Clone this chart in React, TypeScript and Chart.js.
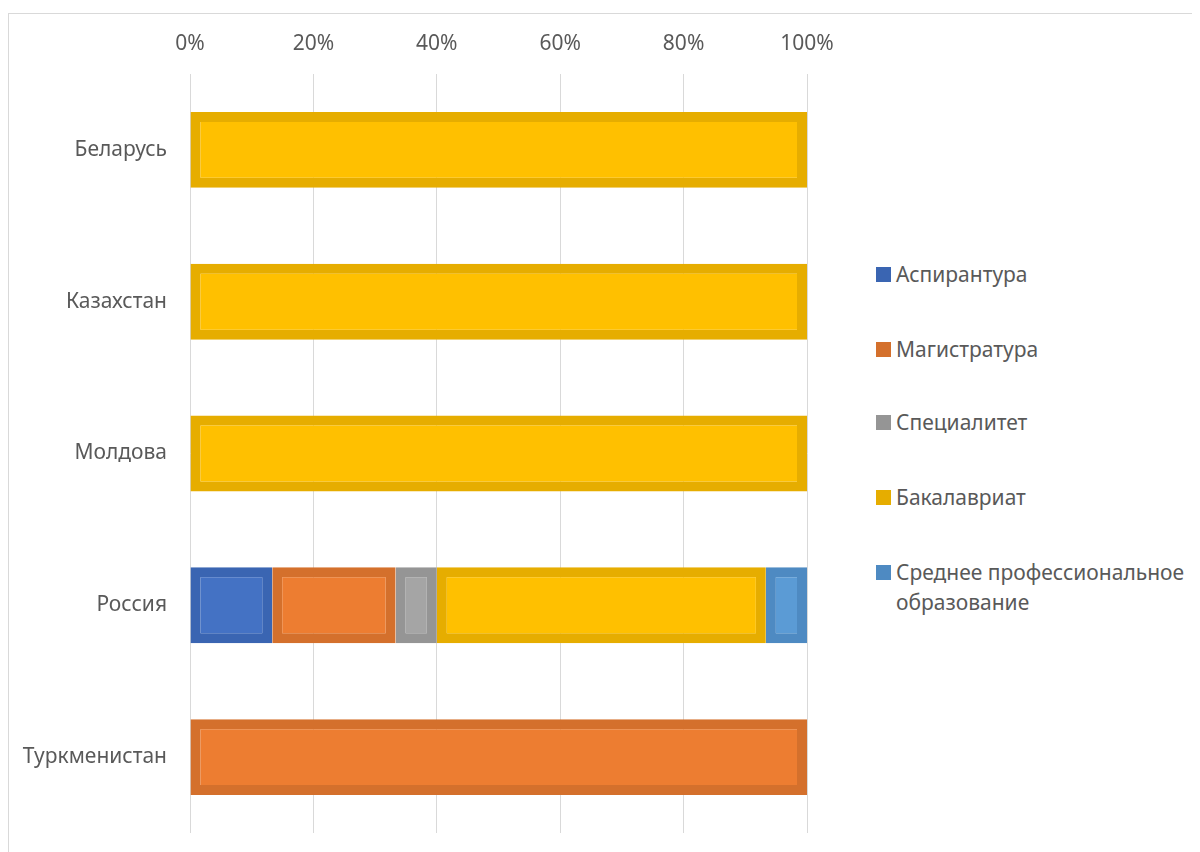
import React, { useEffect, useRef } from "react";
import { Chart, registerables } from "chart.js";

Chart.register(...registerables);

const categories = ["Беларусь", "Казахстан", "Молдова", "Россия", "Туркменистан"];
const seriesNames = [
  "Аспирантура",
  "Магистратура",
  "Специалитет",
  "Бакалавриат",
  "Среднее профессиональное образование",
];
const legendLines = [
  ["Аспирантура"],
  ["Магистратура"],
  ["Специалитет"],
  ["Бакалавриат"],
  ["Среднее профессиональное", "образование"],
];
const aspirantura = [0, 0, 0, 13.33, 0];
const magistratura = [0, 0, 0, 20, 100];
const specialitet = [0, 0, 0, 6.67, 0];
const bakalavriat = [100, 100, 100, 53.33, 0];
const spo = [0, 0, 0, 6.67, 0];
const tickValues = [0, 20, 40, 60, 80, 100];

const fillColors = ["#4472C4", "#ED7D31", "#A5A5A5", "#FFC000", "#5B9BD5"];
const edgeColors = ["#3A65B2", "#D4702C", "#959595", "#E6AD00", "#4E8AC2"];

const FONT = "'Noto Sans', sans-serif";
const TEXT = "#595959";

export default function App() {
  const ref = useRef<HTMLCanvasElement>(null);
  useEffect(() => {
    const series = [aspirantura, magistratura, specialitet, bakalavriat, spo];
    const chart = new Chart(ref.current!, {
      type: "bar",
      data: {
        labels: categories,
        datasets: series.map((d, i) => ({
          label: seriesNames[i],
          data: d,
          backgroundColor: fillColors[i],
          borderColor: edgeColors[i],
          borderWidth: 10,
          borderSkipped: false,
          categoryPercentage: 1,
          barPercentage: 0.5,
        })),
      },
      options: {
        indexAxis: "y",
        responsive: false,
        animation: false,
        devicePixelRatio: 1,
        layout: { padding: { left: 0, right: 62, top: 0, bottom: 19 } },
        plugins: { legend: { display: false }, tooltip: { enabled: false } },
        scales: {
          x: {
            position: "top",
            stacked: true,
            min: 0,
            max: 100,
            afterBuildTicks: (s: any) => {
              s.ticks = tickValues.map((v) => ({ value: v }));
            },
            afterFit: (s: any) => {
              s.height = 60;
              s.paddingLeft = 0;
              s.paddingRight = 0;
            },
            ticks: {
              callback: (v: any) => v + "%",
              color: TEXT,
              font: { family: FONT, size: 21 },
              padding: 17,
            },
            grid: { color: "#D9D9D9", lineWidth: 1, drawTicks: false },
            border: { display: false },
          },
          y: {
            stacked: true,
            afterFit: (s: any) => {
              s.width = 181;
              s.paddingTop = 0;
              s.paddingBottom = 0;
            },
            ticks: {
              color: TEXT,
              font: { family: FONT, size: 21 },
              padding: 23,
            },
            grid: { display: false, drawTicks: false },
            border: { display: false },
          },
        },
      },
    });
    return () => chart.destroy();
  }, []);

  const legendCenters = [260, 335, 408, 483, 558];

  return (
    <div
      style={{
        position: "relative",
        width: 1200,
        height: 840,
        marginTop: 5,
        borderTop: "1px solid #D9D9D9",
        borderLeft: "1px solid #D9D9D9",
        overflow: "hidden",
        background: "#fff",
        fontFamily: FONT,
      }}
    >
      <canvas
        ref={ref}
        width={860}
        height={838}
        style={{ position: "absolute", left: 0, top: 0, width: 860, height: 838 }}
      />
      {legendLines.map((lines, i) => (
        <div
          key={i}
          style={{
            position: "absolute",
            left: 867,
            top: legendCenters[i] - 15,
            display: "flex",
            alignItems: "flex-start",
            color: TEXT,
            fontSize: 21,
            lineHeight: "30px",
            whiteSpace: "nowrap",
          }}
        >
          <span
            style={{
              display: "inline-block",
              width: 15,
              height: 15,
              background: edgeColors[i],
              marginTop: 8,
              marginRight: 5,
              flex: "none",
            }}
          />
          <span>
            {lines.map((l, j) => (
              <div key={j}>{l}</div>
            ))}
          </span>
        </div>
      ))}
    </div>
  );
}
